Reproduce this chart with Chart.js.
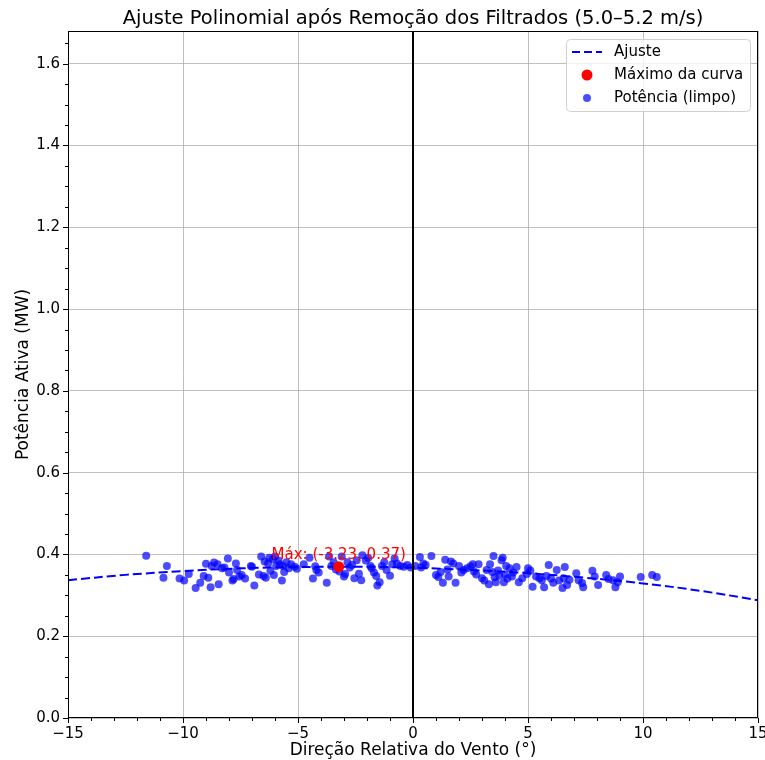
<!DOCTYPE html>
<html>
<head>
<meta charset="utf-8">
<script src="https://cdn.jsdelivr.net/npm/chart.js@4.4.1/dist/chart.umd.min.js"></script>
<style>
  html, body { margin: 0; padding: 0; background: #fff; }
  #wrap { width: 765px; height: 760px; }
</style>
</head>
<body>
<div id="wrap"><canvas id="grafico" width="765" height="760"></canvas></div>
<script>
// Direção relativa do vento (°) e potência (MW) depois da remoção dos filtrados
const direcao = [
  -11.6, -10.85, -10.7, -10.15, -9.95, -9.75, -9.45, -9.25, -9.1, -9.0,
  -8.9, -8.8, -8.75, -8.65, -8.5, -8.45, -8.3, -8.2, -8.05, -8.0,
  -7.85, -7.8, -7.7, -7.65, -7.55, -7.45, -7.3, -7.05, -7.0, -6.9,
  -6.7, -6.6, -6.5, -6.45, -6.4, -6.3, -6.25, -6.2, -6.1, -6.05,
  -6.0, -5.95, -5.85, -5.8, -5.7, -5.65, -5.6, -5.5, -5.4, -5.3,
  -5.15, -5.05, -4.75, -4.5, -4.35, -4.25, -4.2, -4.1, -3.75, -3.65,
  -3.55, -3.45, -3.35, -3.2, -3.1, -3.0, -2.95, -2.85, -2.75, -2.65,
  -2.55, -2.45, -2.35, -2.25, -2.2, -2.05, -1.95, -1.85, -1.8, -1.7,
  -1.6, -1.55, -1.45, -1.35, -1.25, -1.15, -1.0, -0.9, -0.8, -0.7,
  -0.55, -0.4, -0.25, -0.1,
  0.1, 0.3, 0.35, 0.45, 0.55, 0.8, 1.0, 1.1, 1.2, 1.3,
  1.4, 1.5, 1.55, 1.65, 1.75, 1.85, 2.0, 2.1, 2.2, 2.35,
  2.5, 2.6, 2.65, 2.75, 2.85, 3.0, 3.1, 3.2, 3.3, 3.35,
  3.45, 3.5, 3.55, 3.6, 3.7, 3.75, 3.85, 3.9, 3.95, 4.0,
  4.05, 4.1, 4.2, 4.3, 4.35, 4.5, 4.6, 4.75, 4.95, 5.0,
  5.1, 5.2, 5.35, 5.5, 5.6, 5.7, 5.8, 5.9, 6.0, 6.1,
  6.25, 6.35, 6.5, 6.55, 6.6, 6.7, 6.8, 7.1, 7.2, 7.35,
  7.4, 7.8, 7.9, 8.05, 8.4, 8.5, 8.7, 8.8, 8.9, 9.0,
  9.9, 10.4, 10.6
];
const potencia = [
  0.397, 0.343, 0.372, 0.341, 0.336, 0.352, 0.318, 0.331, 0.347, 0.377,
  0.343, 0.320, 0.372, 0.380, 0.376, 0.327, 0.366, 0.368, 0.390, 0.356,
  0.336, 0.340, 0.378, 0.362, 0.346, 0.350, 0.341, 0.372, 0.370, 0.324,
  0.351, 0.395, 0.347, 0.383, 0.343, 0.378, 0.392, 0.360, 0.388, 0.350,
  0.395, 0.372, 0.385, 0.376, 0.336, 0.372, 0.357, 0.381, 0.366, 0.376,
  0.370, 0.365, 0.376, 0.392, 0.341, 0.371, 0.362, 0.356, 0.331, 0.395,
  0.372, 0.381, 0.363, 0.358, 0.395, 0.346, 0.352, 0.381, 0.368, 0.374,
  0.342, 0.386, 0.353, 0.337, 0.398, 0.385, 0.391, 0.372, 0.366, 0.356,
  0.347, 0.324, 0.332, 0.372, 0.381, 0.362, 0.348, 0.376, 0.390, 0.378,
  0.372, 0.370, 0.374, 0.368,
  0.372, 0.394, 0.368, 0.378, 0.374, 0.396, 0.350, 0.345, 0.357, 0.331,
  0.387, 0.363, 0.346, 0.383, 0.378, 0.331, 0.372, 0.356, 0.362, 0.366,
  0.371, 0.376, 0.358, 0.351, 0.376, 0.342, 0.336, 0.362, 0.327, 0.376,
  0.357, 0.396, 0.344, 0.332, 0.361, 0.348, 0.386, 0.392, 0.332, 0.351,
  0.372, 0.341, 0.366, 0.346, 0.356, 0.369, 0.332, 0.342, 0.352, 0.366,
  0.361, 0.321, 0.346, 0.342, 0.337, 0.320, 0.347, 0.374, 0.341, 0.331,
  0.362, 0.336, 0.318, 0.342, 0.369, 0.325, 0.338, 0.354, 0.337, 0.330,
  0.320, 0.360, 0.346, 0.325, 0.350, 0.340, 0.337, 0.320, 0.332, 0.346,
  0.345, 0.350, 0.345
];

// Curva ajustada (polinômio de grau 2), amostrada ao longo do eixo
const ajusteX = [-15, -12.5, -10, -7.5, -5, -2.5, 0, 2.5, 5, 7.5, 10, 12.5, 15];
const ajusteY = [0.337, 0.350, 0.359, 0.366, 0.369, 0.370, 0.3675, 0.362, 0.354, 0.343, 0.329, 0.311, 0.288];

// Máximo da curva
const maximo = { x: -3.23, y: 0.37 };

// Marcas dos eixos
const ticksX = [-15, -10, -5, 0, 5, 10, 15];
const ticksY = [0, 0.2, 0.4, 0.6, 0.8, 1.0, 1.2, 1.4, 1.6];
const limiteY = 1.68;

const FONTE = '"DejaVu Sans", sans-serif';
const AZUL = 'rgba(0, 0, 255, 0.7)';

function menos(v) {
  return String(v).replace('-', '\u2212');
}

// Moldura, ticks menores, títulos, legenda e anotação, no estilo do matplotlib
const extras = {
  id: 'extras',
  afterDraw(chart) {
    const ctx = chart.ctx;
    const a = chart.chartArea;
    const sx = chart.scales.x;
    const sy = chart.scales.y;
    ctx.save();

    // moldura
    ctx.strokeStyle = '#000';
    ctx.lineWidth = 1;
    ctx.strokeRect(a.left + 0.5, a.top + 0.5, a.right - a.left - 1, a.bottom - a.top - 1);

    // ticks maiores e menores
    ctx.beginPath();
    for (let v = -15; v <= 15; v += 1) {
      const px = Math.round(sx.getPixelForValue(v)) + 0.5;
      const len = ticksX.includes(v) ? 5 : 3;
      ctx.moveTo(px, a.bottom);
      ctx.lineTo(px, a.bottom + len);
    }
    for (let i = 0; i * 0.05 <= limiteY; i++) {
      const py = Math.round(sy.getPixelForValue(i * 0.05)) + 0.5;
      const len = i % 4 === 0 ? 5 : 3;
      ctx.moveTo(a.left, py);
      ctx.lineTo(a.left - len, py);
    }
    ctx.stroke();

    // título
    ctx.fillStyle = '#000';
    ctx.textAlign = 'center';
    ctx.textBaseline = 'middle';
    ctx.font = '19.5px ' + FONTE;
    ctx.fillText('Ajuste Polinomial após Remoção dos Filtrados (5.0\u20135.2 m/s)', (a.left + a.right) / 2, 19);

    // títulos dos eixos
    ctx.font = '17px ' + FONTE;
    ctx.fillText('Direção Relativa do Vento (°)', (a.left + a.right) / 2, 751);
    ctx.save();
    ctx.translate(24, (a.top + a.bottom) / 2);
    ctx.rotate(-Math.PI / 2);
    ctx.fillText('Potência Ativa (MW)', 0, 0);
    ctx.restore();

    // anotação do máximo
    ctx.fillStyle = 'red';
    ctx.font = '15px ' + FONTE;
    ctx.textBaseline = 'alphabetic';
    ctx.fillText('Máx: (' + maximo.x.toFixed(2) + ', ' + maximo.y.toFixed(2) + ')',
      sx.getPixelForValue(maximo.x), sy.getPixelForValue(maximo.y + 0.02));

    // legenda
    const lx = 566, ly = 39, lw = 184, lh = 72;
    ctx.beginPath();
    ctx.roundRect(lx + 0.5, ly + 0.5, lw, lh, 4);
    ctx.fillStyle = 'rgba(255,255,255,0.8)';
    ctx.fill();
    ctx.strokeStyle = '#d0d0d0';
    ctx.stroke();

    ctx.strokeStyle = 'blue';
    ctx.lineWidth = 2;
    ctx.setLineDash([8, 4]);
    ctx.beginPath();
    ctx.moveTo(572, 52);
    ctx.lineTo(602, 52);
    ctx.stroke();
    ctx.setLineDash([]);

    ctx.fillStyle = 'red';
    ctx.beginPath();
    ctx.arc(587, 75, 5.5, 0, Math.PI * 2);
    ctx.fill();
    ctx.fillStyle = AZUL;
    ctx.beginPath();
    ctx.arc(587, 98, 4, 0, Math.PI * 2);
    ctx.fill();

    ctx.fillStyle = '#000';
    ctx.font = '15px ' + FONTE;
    ctx.textAlign = 'left';
    ctx.textBaseline = 'middle';
    ctx.fillText('Ajuste', 614, 52);
    ctx.fillText('Máximo da curva', 614, 75);
    ctx.fillText('Potência (limpo)', 614, 98);

    ctx.restore();
  }
};

const pontos = direcao.map((x, i) => ({ x: x, y: potencia[i] }));
const curva = ajusteX.map((x, i) => ({ x: x, y: ajusteY[i] }));

new Chart(document.getElementById('grafico'), {
  type: 'scatter',
  data: {
    datasets: [
      {
        label: 'Máximo da curva',
        data: [maximo],
        backgroundColor: 'red',
        borderWidth: 0,
        pointRadius: 5.5
      },
      {
        label: 'x = 0',
        data: [{ x: 0, y: 0 }, { x: 0, y: limiteY }],
        showLine: true,
        borderColor: '#000',
        borderWidth: 2,
        pointRadius: 0
      },
      {
        label: 'Ajuste',
        data: curva,
        showLine: true,
        borderColor: 'blue',
        borderWidth: 2,
        borderDash: [9, 4],
        tension: 0.4,
        pointRadius: 0
      },
      {
        label: 'Potência (limpo)',
        data: pontos,
        backgroundColor: AZUL,
        borderWidth: 0,
        pointRadius: 4
      }
    ]
  },
  options: {
    responsive: false,
    animation: false,
    events: [],
    layout: { padding: { top: 31, right: 7, left: 0, bottom: 0 } },
    plugins: {
      legend: { display: false },
      tooltip: { enabled: false },
      title: { display: false }
    },
    scales: {
      x: {
        type: 'linear',
        min: -15,
        max: 15,
        afterFit: (s) => { s.height = 42; s.paddingLeft = 0; s.paddingRight = 0; },
        afterBuildTicks: (s) => { s.ticks = ticksX.map(v => ({ value: v })); },
        grid: { color: '#b0b0b0', lineWidth: 0.8, drawTicks: false },
        border: { display: false },
        ticks: {
          color: '#000',
          padding: 7,
          maxRotation: 0,
          font: { family: FONTE, size: 15 },
          callback: (v) => menos(v)
        }
      },
      y: {
        type: 'linear',
        min: 0,
        max: limiteY,
        afterFit: (s) => { s.width = 68; s.paddingTop = 0; s.paddingBottom = 0; },
        afterBuildTicks: (s) => { s.ticks = ticksY.map(v => ({ value: v })); },
        grid: { color: '#b0b0b0', lineWidth: 0.8, drawTicks: false },
        border: { display: false },
        ticks: {
          color: '#000',
          padding: 8,
          font: { family: FONTE, size: 15 },
          callback: (v) => v.toFixed(1)
        }
      }
    }
  },
  plugins: [extras]
});
</script>
</body>
</html>
